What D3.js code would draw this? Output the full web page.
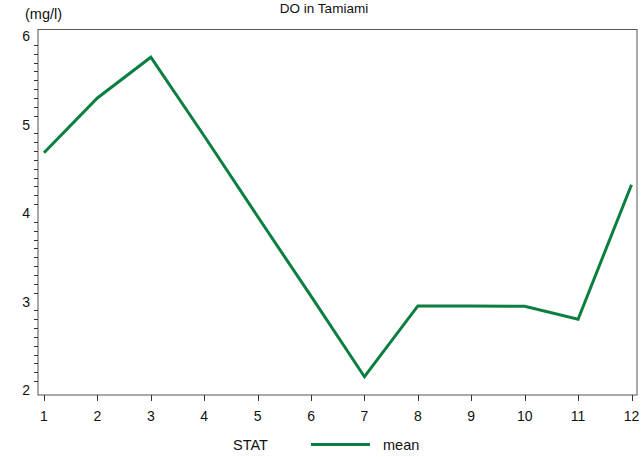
<!DOCTYPE html>
<html><head><meta charset="utf-8">
<script src="https://cdn.jsdelivr.net/npm/d3@7"></script>
<style>body{margin:0;background:#fff}svg{display:block;font-family:"Liberation Sans",Arial,sans-serif}</style>
</head><body><svg id="c" width="642" height="457"></svg>
<script>
const months = [1,2,3,4,5,6,7,8,9,10,11,12];
const meanDO = [4.68,5.30,5.76,4.87,3.96,3.06,2.15,2.95,2.95,2.945,2.80,4.32];
const yTicks = [2,3,4,5,6];
const title = "DO in Tamiami";
const yUnit = "(mg/l)";
const legendTitle = "STAT";
const seriesName = "mean";

const svg = d3.select("#c");
const L=38,R=637,T=29.5,B=395;
const x = d3.scaleLinear().domain([1,12]).range([44,631.5]);
const y = d3.scaleLinear().domain([2,6]).range([390,36]);
const green = "#0b7f40";

// frame
svg.append("rect").attr("x",L).attr("y",T).attr("width",R-L).attr("height",B-T)
  .attr("fill","none").attr("stroke","#555").attr("stroke-width",1);

// y minor ticks
const minor = d3.range(20,61).map(d=>d/10).filter(d=>Math.abs(d-Math.round(d))>1e-6);
svg.append("g").selectAll("line").data(minor).join("line")
  .attr("x1",L-4).attr("x2",L).attr("y1",d=>Math.round(y(d))+0.5).attr("y2",d=>Math.round(y(d))+0.5)
  .attr("stroke","#333").attr("stroke-width",1);
svg.append("g").selectAll("text").data(yTicks).join("text")
  .attr("x",30).attr("y",d=>y(d)+5).attr("text-anchor","end")
  .attr("font-size",14).attr("fill","#111").text(d=>d);

// x ticks
svg.append("g").selectAll("line").data(months).join("line")
  .attr("x1",d=>Math.round(x(d))+0.5).attr("x2",d=>Math.round(x(d))+0.5).attr("y1",B).attr("y2",B+6)
  .attr("stroke","#333").attr("stroke-width",1);
svg.append("g").selectAll("text").data(months).join("text")
  .attr("x",d=>x(d)).attr("y",421).attr("text-anchor","middle")
  .attr("font-size",14).attr("fill","#111").text(d=>d);

// line
svg.append("path").datum(months.map((m,i)=>[m,meanDO[i]]))
  .attr("d",d3.line().x(d=>x(d[0])).y(d=>y(d[1])))
  .attr("fill","none").attr("stroke",green).attr("stroke-width",3).attr("stroke-linejoin","miter");

// texts
svg.append("text").attr("x",324).attr("y",13).attr("text-anchor","middle")
  .attr("font-size",13.5).attr("fill","#111").text(title);
svg.append("text").attr("x",25).attr("y",19).attr("font-size",14.5).attr("fill","#111").text(yUnit);

// legend
svg.append("text").attr("x",233).attr("y",450).attr("font-size",14.5).attr("fill","#111").text(legendTitle);
svg.append("line").attr("x1",311).attr("x2",370).attr("y1",444.5).attr("y2",444.5)
  .attr("stroke",green).attr("stroke-width",3);
svg.append("text").attr("x",383).attr("y",450).attr("font-size",14.5).attr("fill","#111").text(seriesName);
</script></body></html>
